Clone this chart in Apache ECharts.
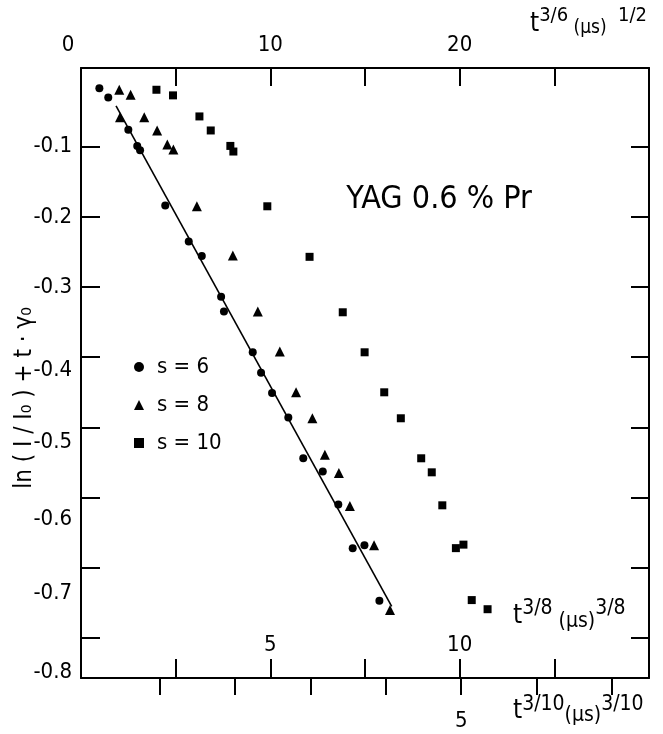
<!DOCTYPE html>
<html>
<head>
<meta charset="utf-8">
<script src="https://cdn.jsdelivr.net/npm/echarts@6/dist/echarts.min.js"></script>
<style>
  html, body { margin: 0; padding: 0; background: #fff; }
  #chart { width: 663px; height: 734px; }
</style>
</head>
<body>
<div id="chart"></div>
<script>
// s = 6 (plotted against t^(3/6), top axis)
const s6X = [0.97, 1.44, 2.50, 2.97, 3.12, 4.45, 5.69, 6.38, 7.40, 7.55, 9.07, 9.51, 10.09, 10.95, 11.74, 12.77, 13.59, 14.35, 14.97, 15.76];
const s6Y = [-0.017, -0.030, -0.076, -0.099, -0.105, -0.184, -0.235, -0.256, -0.314, -0.335, -0.393, -0.422, -0.451, -0.486, -0.544, -0.563, -0.610, -0.672, -0.668, -0.747];
// s = 8 (against t^(3/8), inner bottom axis)
const s8X = [1.01, 1.31, 1.03, 1.67, 2.01, 2.28, 2.44, 3.06, 4.01, 4.67, 5.25, 5.68, 6.11, 6.44, 6.81, 7.10, 7.74, 8.16];
const s8Y = [-0.019, -0.026, -0.058, -0.058, -0.077, -0.097, -0.104, -0.185, -0.255, -0.335, -0.392, -0.450, -0.487, -0.539, -0.565, -0.612, -0.668, -0.760];
// s = 10 (against t^(3/10), outer bottom axis)
const s10X = [0.96, 1.18, 1.53, 1.68, 1.94, 1.98, 2.43, 2.99, 3.43, 3.72, 3.98, 4.20, 4.47, 4.61, 4.75, 4.93, 5.03, 5.14, 5.35];
const s10Y = [-0.019, -0.027, -0.057, -0.077, -0.099, -0.107, -0.185, -0.257, -0.336, -0.393, -0.450, -0.487, -0.544, -0.564, -0.611, -0.672, -0.667, -0.746, -0.759];
// fitted straight line through s = 6
const fitX = [1.85, 16.41];
const fitY = [-0.042, -0.755];

const seriesNames = ['s = 6', 's = 8', 's = 10'];

// ticks and labels
const topTicks = [5, 10, 15, 20, 25];
const topLabels = [0, 10, 20];
const midTicks = [2.5, 5, 7.5, 10, 12.5];
const midLabels = [5, 10];
const lowTicks = [1, 2, 3, 4, 5, 6, 7];
const lowLabels = [5];
const yTicks = [-0.1, -0.2, -0.3, -0.4, -0.5, -0.6, -0.7, -0.8];
const yLabels = [-0.1, -0.2, -0.3, -0.4, -0.5, -0.6, -0.7, -0.8];

// the scan's y labels drift below their ticks lower down (px)
const yLabelDrift = [0, 0, 0, 13, 15, 22, 25, 34];

const FONT = '"DejaVu Sans Condensed", "Liberation Sans Narrow", sans-serif';

function pairs(xs, ys) {
    return xs.map((x, i) => [x, ys[i]]);
}

const yRich = {};
yLabelDrift.forEach((d, i) => {
    yRich['l' + i] = { fontSize: 22, fontFamily: FONT, color: '#000', padding: [d * 2, 0, 0, 0] };
});

const axisBase = {
    type: 'value',
    splitLine: { show: false }
};

const myChart = echarts.init(document.getElementById('chart'));
myChart.setOption({
    animation: false,
    backgroundColor: '#fff',
    textStyle: { fontFamily: FONT, color: '#000' },
    grid: { left: 81, right: 14, top: 68, bottom: 56, outerBoundsMode: 'none' },
    legend: {
        data: seriesNames,
        orient: 'vertical',
        left: 129,
        top: 351,
        itemWidth: 10,
        itemHeight: 10,
        itemGap: 16,
        textStyle: { fontSize: 22, lineHeight: 22, fontFamily: FONT, color: '#000', padding: [0, 0, 0, 8] }
    },
    xAxis: [
        Object.assign({}, axisBase, {
            position: 'top', min: 0, max: 30,
            axisLine: { onZero: false, lineStyle: { color: '#000', width: 2 } },
            axisTick: { inside: true, length: 18, customValues: topTicks, lineStyle: { color: '#000', width: 2 } },
            axisLabel: {
                customValues: topLabels, margin: 12, fontSize: 22, color: '#000',
                formatter: v => (v === 0 ? '{z|0}' : String(v)),
                rich: { z: { fontSize: 22, fontFamily: FONT, color: '#000', padding: [0, 26, 0, 0] } }
            }
        }),
        Object.assign({}, axisBase, {
            position: 'bottom', offset: 0, min: 0, max: 15,
            axisLine: { onZero: false, lineStyle: { color: '#000', width: 2 } },
            axisTick: { inside: true, length: 19, customValues: midTicks, lineStyle: { color: '#000', width: 2 } },
            axisLabel: { inside: true, customValues: midLabels, margin: 22, fontSize: 22, color: '#000' }
        }),
        Object.assign({}, axisBase, {
            position: 'bottom', offset: 0, min: -0.04, max: 7.49,
            axisLine: { show: false, onZero: false },
            axisTick: { inside: false, length: 17, customValues: lowTicks, lineStyle: { color: '#000', width: 2 } },
            axisLabel: { customValues: lowLabels, margin: 32, fontSize: 22, color: '#000' }
        })
    ],
    yAxis: [
        Object.assign({}, axisBase, {
            position: 'left', min: -0.857, max: 0.012,
            axisLine: { show: true, onZero: false, lineStyle: { color: '#000', width: 2 } },
            axisTick: { show: true, inside: true, length: 19, customValues: yTicks, lineStyle: { color: '#000', width: 2 } },
            axisLabel: {
                customValues: yLabels, margin: 9, hideOverlap: false,
                formatter: v => {
                    const i = yLabels.findIndex(l => Math.abs(l - v) < 1e-6);
                    return '{l' + i + '|' + v.toFixed(1) + '}';
                },
                rich: yRich
            }
        }),
        Object.assign({}, axisBase, {
            position: 'right', min: -0.857, max: 0.012,
            axisLine: { show: true, onZero: false, lineStyle: { color: '#000', width: 2 } },
            axisTick: { show: true, inside: true, length: 18, customValues: yTicks, lineStyle: { color: '#000', width: 2 } },
            axisLabel: { show: false }
        })
    ],
    graphic: [
        {
            type: 'text', left: 530, top: 6,
            style: {
                text: '{b|t}{s|3/6}{u| (μs)}{s|  1/2}',
                rich: {
                    b: { fontSize: 26, fontFamily: FONT, fill: '#000' },
                    s: { fontSize: 20, fontFamily: FONT, fill: '#000', padding: [0, 0, 16, 0] },
                    u: { fontSize: 19, fontFamily: FONT, fill: '#000', padding: [8, 0, 0, 0] }
                }
            }
        },
        {
            type: 'text', left: 513, top: 598,
            style: {
                text: '{b|t}{s|3/8}{u| (μs)}{s|3/8}',
                rich: {
                    b: { fontSize: 26, fontFamily: FONT, fill: '#000' },
                    s: { fontSize: 21, fontFamily: FONT, fill: '#000', padding: [0, 0, 16, 0] },
                    u: { fontSize: 21, fontFamily: FONT, fill: '#000', padding: [10, 0, 0, 0] }
                }
            }
        },
        {
            type: 'text', left: 513, top: 694,
            style: {
                text: '{b|t}{s|3/10}{u|(μs)}{s|3/10}',
                rich: {
                    b: { fontSize: 26, fontFamily: FONT, fill: '#000' },
                    s: { fontSize: 21, fontFamily: FONT, fill: '#000', padding: [0, 0, 14, 0] },
                    u: { fontSize: 21, fontFamily: FONT, fill: '#000', padding: [8, 0, 0, 0] }
                }
            }
        },
        {
            type: 'text', x: 439, y: 200,
            style: {
                text: 'YAG 0.6 % Pr', fontSize: 32, fontFamily: FONT, fill: '#000',
                align: 'center', verticalAlign: 'middle'
            }
        },
        {
            type: 'text', x: 25, y: 398, rotation: Math.PI / 2,
            style: {
                text: 'ln ( I / I₀ ) + t · γ₀', fontSize: 24, fontFamily: FONT, fill: '#000',
                align: 'center', verticalAlign: 'middle'
            }
        }
    ],
    series: [
        {
            name: seriesNames[0], type: 'scatter', xAxisIndex: 0, yAxisIndex: 0,
            symbol: 'circle', symbolSize: 8, itemStyle: { color: '#000', opacity: 1 },
            data: pairs(s6X, s6Y)
        },
        {
            name: seriesNames[1], type: 'scatter', xAxisIndex: 1, yAxisIndex: 0,
            symbol: 'triangle', symbolSize: 10, itemStyle: { color: '#000', opacity: 1 },
            data: pairs(s8X, s8Y)
        },
        {
            name: seriesNames[2], type: 'scatter', xAxisIndex: 2, yAxisIndex: 0,
            symbol: 'rect', symbolSize: 8, itemStyle: { color: '#000', opacity: 1 },
            data: pairs(s10X, s10Y)
        },
        {
            name: 'fit', type: 'line', xAxisIndex: 0, yAxisIndex: 0,
            symbol: 'none', silent: true,
            lineStyle: { color: '#000', width: 1.6 },
            data: pairs(fitX, fitY)
        }
    ]
});
</script>
</body>
</html>
